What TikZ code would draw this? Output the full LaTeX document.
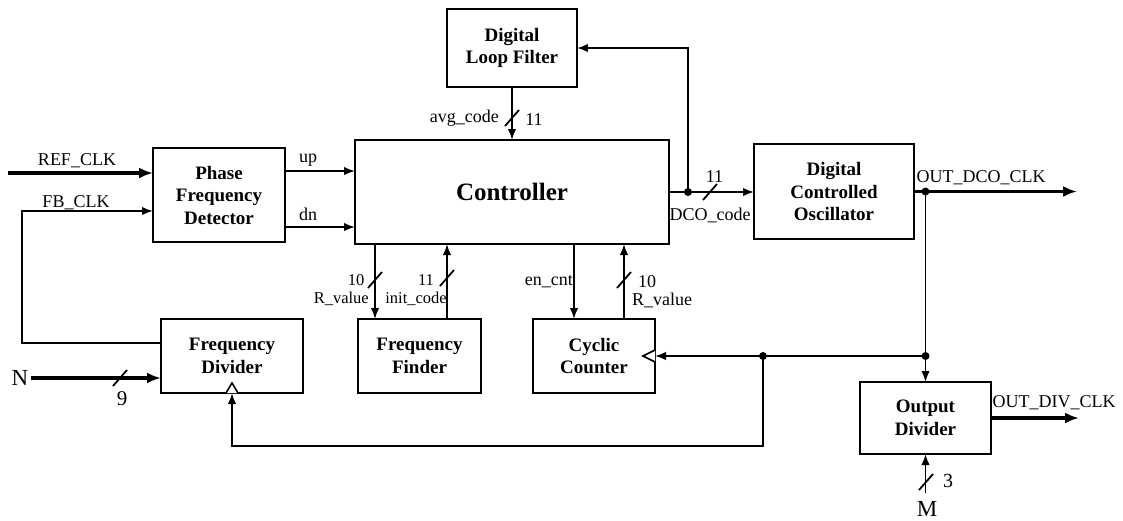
\documentclass[tikz,border=0pt]{standalone}
\usepackage{fontspec}
\setmainfont{Liberation Serif}
\usetikzlibrary{arrows.meta}
\newcommand\busmark[1]{\draw[wire] ([shift={(-7,8)}]#1) -- ([shift={(7,-8)}]#1);}
\begin{document}
\begin{tikzpicture}[x=1pt,y=-1pt,
  blk/.style={draw, line width=2pt, inner sep=0pt, outer sep=0pt, align=center,
              font=\fontsize{19}{22.5}\selectfont\bfseries},
  wire/.style={line width=1.8pt},
  sig/.style={wire, -{Latex[length=11pt,width=8.5pt]}},
  bus/.style={line width=3.4pt, -{Latex[length=14pt,width=11pt]}},
  lbl/.style={inner sep=0pt, font=\fontsize{18}{21}\selectfont},
  slbl/.style={inner sep=0pt, font=\fontsize{16.5}{19}\selectfont},
  blbl/.style={inner sep=0pt, font=\fontsize{23}{26}\selectfont},
  dot/.style={circle, fill, inner sep=0pt, minimum size=8pt},
  clk/.style={line width=1.6pt, fill=white}
]
\useasboundingbox (0,0) rectangle (1123,520);

% blocks
\node[blk, minimum width=130pt, minimum height=78pt]  (dlf)  at (512,48)    {Digital\\Loop Filter};
\node[blk, minimum width=314pt, minimum height=104pt, font=\fontsize{25}{29}\selectfont\bfseries]
                                                      (ctrl) at (512,192)   {Controller};
\node[blk, minimum width=132pt, minimum height=94pt]  (pfd)  at (219,195)   {Phase\\Frequency\\Detector};
\node[blk, minimum width=160pt, minimum height=95pt]  (dco)  at (834,191.5) {Digital\\Controlled\\Oscillator};
\node[blk, minimum width=142pt, minimum height=74pt]  (fd)   at (232,356)   {Frequency\\Divider};
\node[blk, minimum width=123pt, minimum height=74pt]  (ff)   at (419.5,356) {Frequency\\Finder};
\node[blk, minimum width=122pt, minimum height=74pt]  (cc)   at (594,356)   {Cyclic\\Counter};
\node[blk, minimum width=131pt, minimum height=72pt]  (od)   at (925.5,418) {Output\\Divider};

% helper coordinates
\coordinate (refin) at (8,173);
\coordinate (fbc)   at (22,211);
\coordinate (yfb)   at (0,343);
\coordinate (yup)   at (0,171);
\coordinate (ydn)   at (0,227);
\coordinate (xr)    at (375,0);
\coordinate (xi)    at (447,0);
\coordinate (xe)    at (574,0);
\coordinate (xc)    at (624,0);
\coordinate (jd)    at ([xshift=19pt]ctrl.east);
\coordinate (jo)    at (od.north |- dco.east);
\coordinate (jr)    at (od.north |- cc.east);
\coordinate (jl)    at (763,356);
\coordinate (ybot)  at (0,446);
\coordinate (outA)  at (1077,191.5);
\coordinate (outB)  at (1079,418);

% inputs of the phase frequency detector
\draw[bus] (refin) -- (pfd.west |- refin);
\draw[sig] (fd.west |- yfb) -| (fbc) -- (pfd.west |- fbc);
\node[lbl, anchor=base] at (77,165) {REF\_CLK};
\node[lbl, anchor=base] at (76,207) {FB\_CLK};

% up / dn
\draw[sig] (pfd.east |- yup) -- (ctrl.west |- yup);
\draw[sig] (pfd.east |- ydn) -- (ctrl.west |- ydn);
\node[lbl, anchor=base] at (308,162) {up};
\node[lbl, anchor=base] at (308,220) {dn};

% loop filter
\draw[sig] (dlf.south) -- (ctrl.north);
\busmark{512,118}
\node[lbl, anchor=base east] at (499,122) {avg\_code};
\node[lbl, anchor=base] at (534,125) {11};

% controller to DCO, and back to the loop filter
\draw[sig] (ctrl.east) -- (dco.west |- ctrl.east);
\draw[sig] (jd) |- (dlf.east);
\node[dot] at (jd) {};
\busmark{710,192}
\node[lbl, anchor=base] at (714.5,182) {11};
\node[lbl, anchor=base] at (710,220) {DCO\_code};

% frequency finder
\draw[sig] (ctrl.south -| xr) -- (ff.north -| xr);
\draw[sig] (ff.north -| xi) -- (ctrl.south -| xi);
\busmark{375,280}
\busmark{447,278}
\node[slbl, anchor=base] at (356,285) {10};
\node[slbl, anchor=base east] at (369,303) {R\_value};
\node[slbl, anchor=base] at (426,285) {11};
\node[slbl, anchor=base east] at (447,303) {init\_code};

% cyclic counter
\draw[sig] (ctrl.south -| xe) -- (cc.north -| xe);
\draw[sig] (cc.north -| xc) -- (ctrl.south -| xc);
\busmark{624,280}
\node[lbl, anchor=base east] at (573,285) {en\_cnt};
\node[lbl, anchor=base] at (647,287) {10};
\node[lbl, anchor=base west] at (632,305) {R\_value};

% outputs
\draw[bus] (dco.east) -- (outA);
\node[lbl, anchor=base] at (981,182) {OUT\_DCO\_CLK};
\draw[bus] (od.east) -- (outB);
\node[lbl, anchor=base] at (1054,407) {OUT\_DIV\_CLK};

% clock distribution
\draw[sig] (jo) -- (od.north);
\draw[sig] (jr) -- (cc.east);
\draw[sig] (jl) -- (jl |- ybot) -| (fd.south);
\node[dot] at (jo) {};
\node[dot] at (jr) {};
\node[dot] at (jl) {};
\draw[clk] ([yshift=6pt]cc.east) -- ([xshift=-12pt]cc.east) -- ([yshift=-6pt]cc.east);
\draw[clk] ([xshift=-6pt]fd.south) -- ([yshift=10pt]fd.south) -- ([xshift=6pt]fd.south);

% divider ratio inputs
\node[blbl, outer xsep=3pt] (nlab) at (20,378) {N};
\draw[bus] (nlab.east) -- (fd.west |- nlab.east);
\busmark{120,378}
\node[lbl, anchor=base, font=\fontsize{21}{24}\selectfont] at (122,405) {9};

\node[blbl, outer ysep=8pt] (mlab) at (927,509) {M};
\draw[sig] (od.south |- mlab.north) -- (od.south);
\busmark{926,482}
\node[lbl, anchor=base, font=\fontsize{20}{23}\selectfont] at (948,487) {3};
\end{tikzpicture}
\end{document}
